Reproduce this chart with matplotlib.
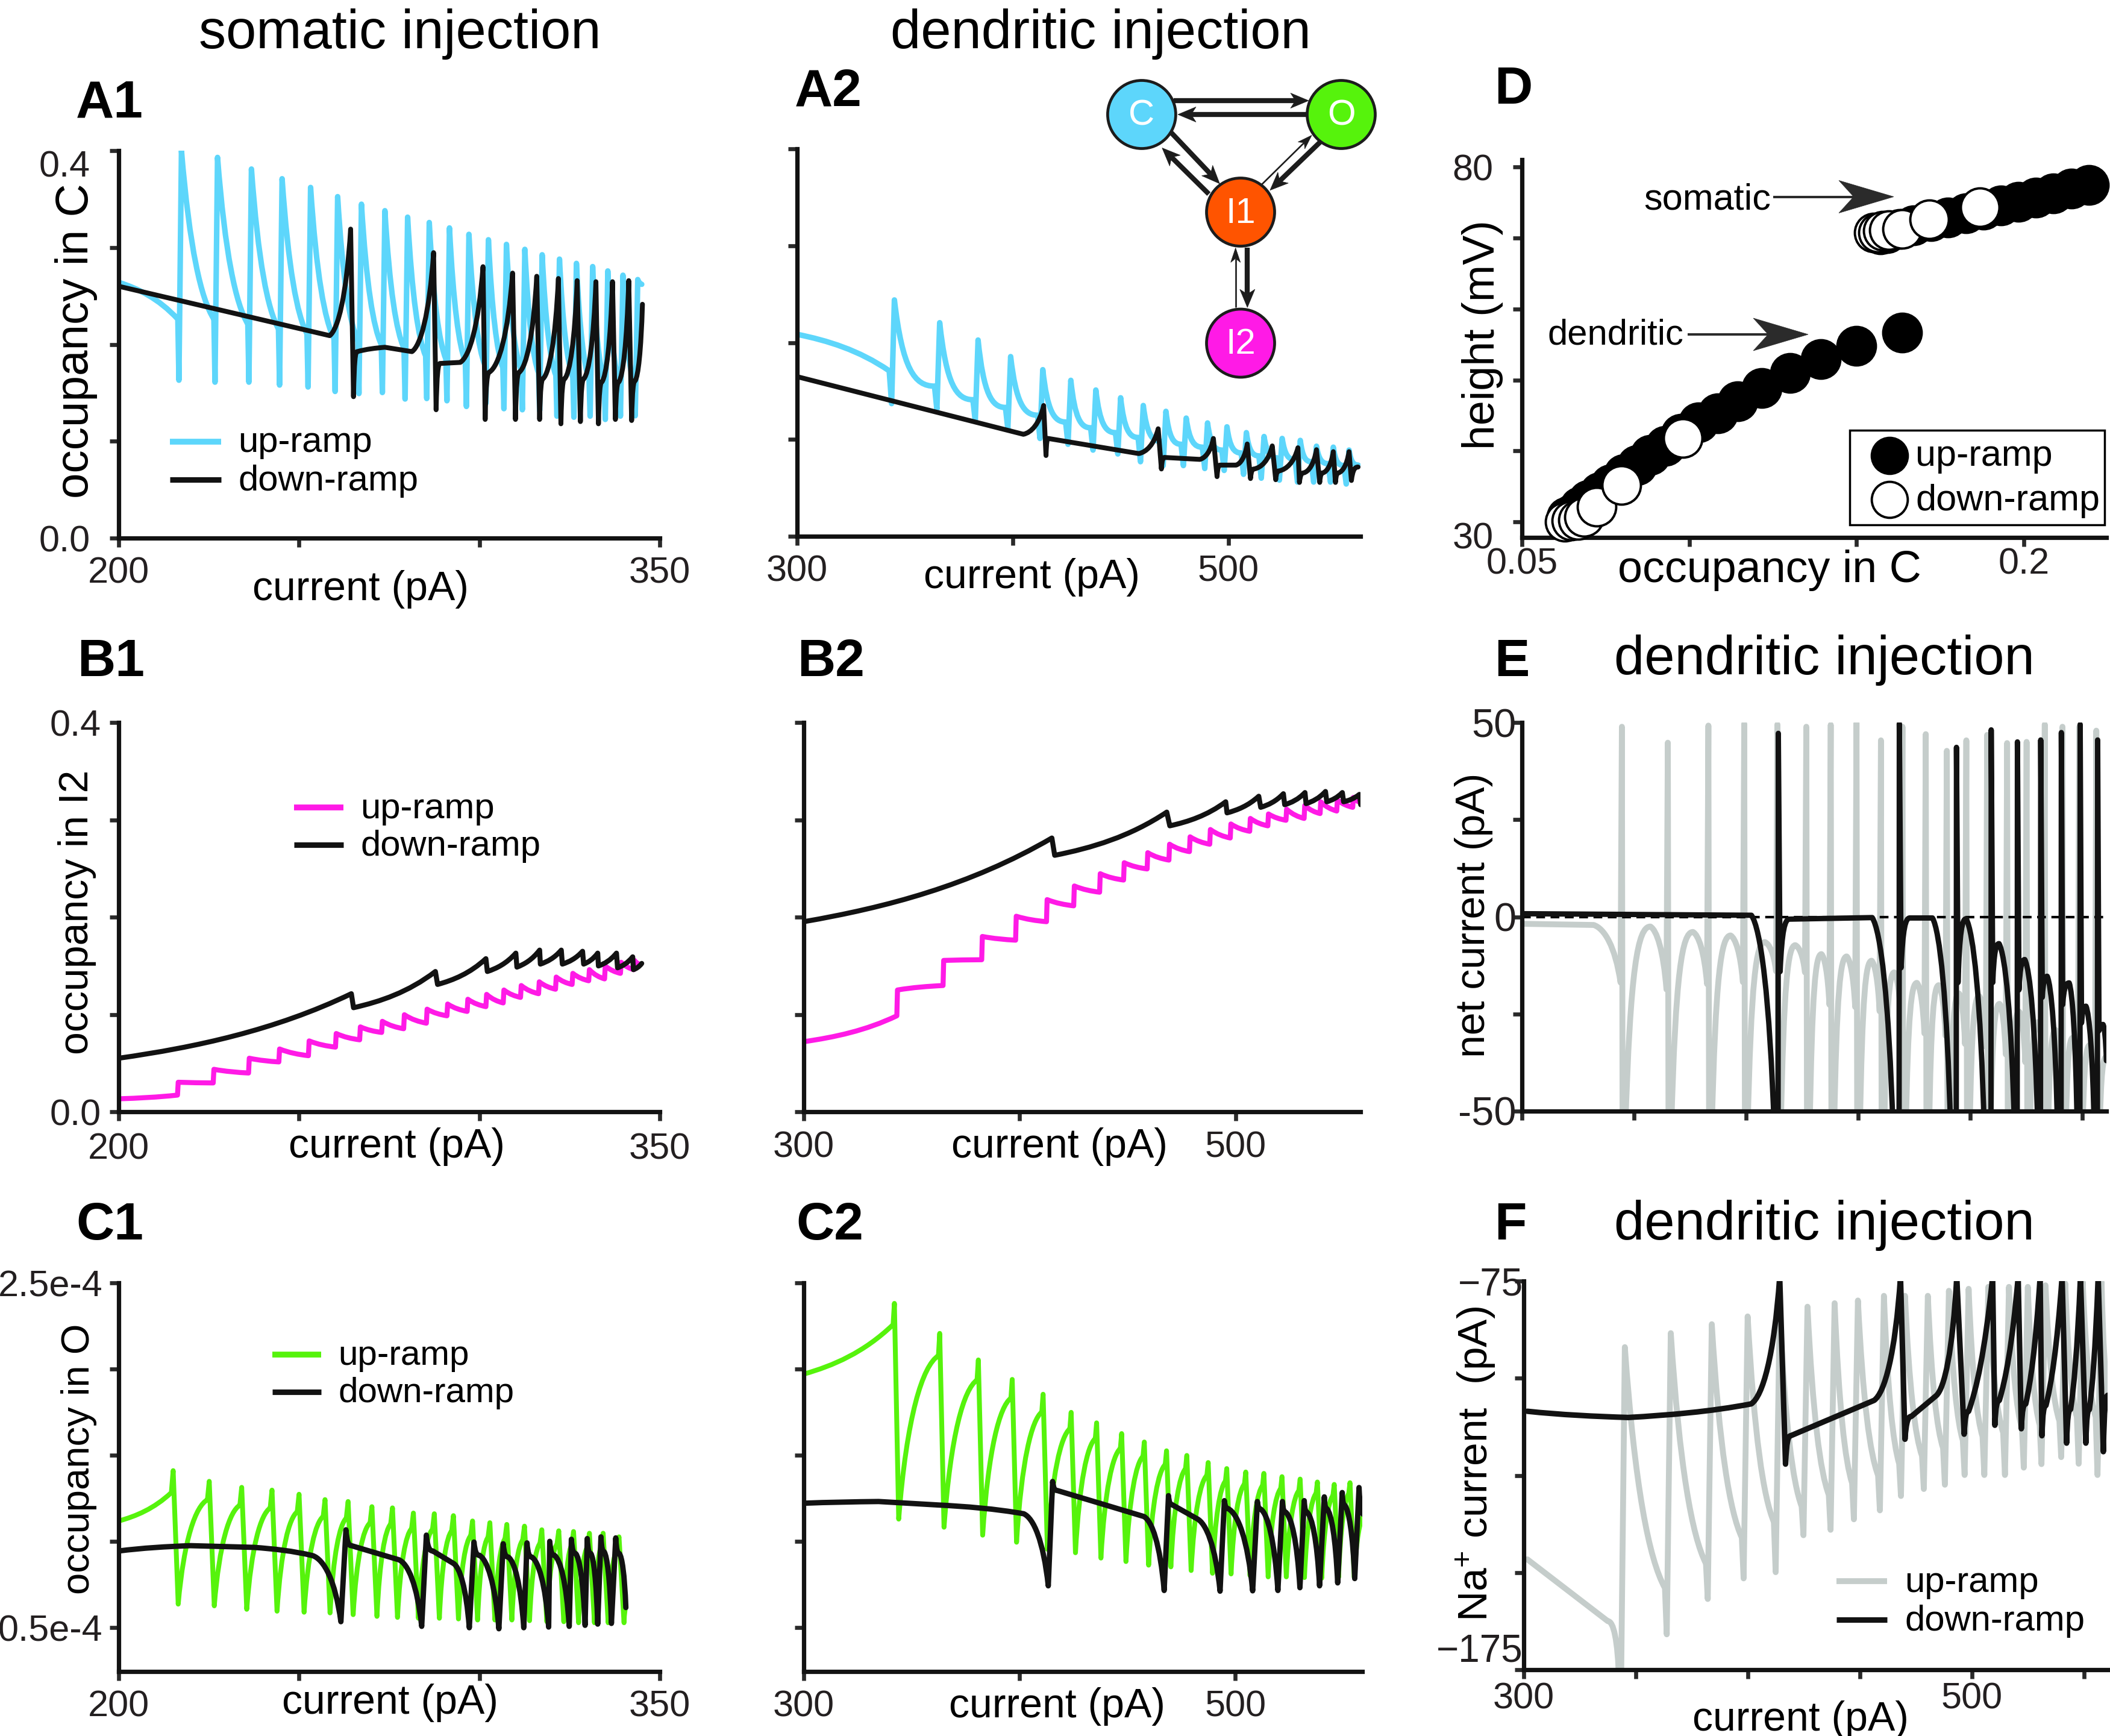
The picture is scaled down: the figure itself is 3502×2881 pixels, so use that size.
import numpy as np
import matplotlib
matplotlib.use('Agg')
import matplotlib.pyplot as plt
from matplotlib.path import Path
from matplotlib.patches import PathPatch, Circle, Polygon, Rectangle

plt.rcParams['font.family'] = ['Liberation Sans', 'DejaVu Sans']
plt.rcParams['mathtext.fontset'] = 'custom'
plt.rcParams['mathtext.rm'] = 'Liberation Sans'
plt.rcParams['mathtext.it'] = 'Liberation Sans:italic'
plt.rcParams['mathtext.bf'] = 'Liberation Sans:bold'

W, H = 3502, 2881
BLUE = '#5dd6fb'; GREEN = '#56f30c'; MAGENTA = '#ff1ae6'; GRAY = '#c5cdcb'
BLACK = '#121212'; ORANGE = '#ff5400'; DARK = '#231f20'
O_UNIT = 1e-4

# ---------------- data ----------------
# A1: occupancy in C, somatic injection
A1_up_x = [217.4, 227.4, 236.8, 245.3, 253.2, 260.7, 267.3, 273.8, 280.1, 286.1, 291.7,
           297.1, 302.5, 307.5, 312.6, 317.4, 322.2, 326.9, 331.4, 335.6, 339.8, 343.9]
A1_up_peak = [0.400, 0.393, 0.381, 0.371, 0.362, 0.3525, 0.3447, 0.3380, 0.3313, 0.3258, 0.3202,
              0.3136, 0.3080, 0.3032, 0.2981, 0.2925, 0.2880, 0.2836, 0.2803, 0.2758, 0.2714, 0.2669]
A1_up_trough = [0.163, 0.161, 0.161, 0.158, 0.156, 0.1514, 0.1492, 0.1503, 0.1436, 0.1441, 0.1418,
                0.1359, 0.1392, 0.1336, 0.1325, 0.1314, 0.1259, 0.1248, 0.1259, 0.1225, 0.1259, 0.1263]
A1_up_pre = [0.226, 0.226, 0.221, 0.216, 0.211, 0.206, 0.2036, 0.200, 0.196, 0.188, 0.185,
             0.182, 0.179, 0.176, 0.173, 0.1705, 0.168, 0.166, 0.164, 0.162, 0.160, 0.159]
A1_up_start = (200.0, 0.264)
A1_up_end = (345.0, 0.262)
A1_dn_x = [200.0, 258.5, 264.3, 265.1, 266.1, 273.8, 281.3, 287.3, 288.0, 289.1, 294.7, 301.0,
           301.6, 302.8, 309.2, 310.0, 311.1, 315.9, 316.7, 317.7, 321.9, 322.6, 323.7, 327.1,
           328.0, 329.0, 332.3, 333.0, 334.0, 336.9, 337.7, 338.7, 341.4, 342.2, 343.2, 345.2]
A1_dn_y = [0.260, 0.209, 0.319, 0.146, 0.1925, 0.197, 0.1925, 0.2947, 0.1325, 0.1803, 0.1814, 0.2802,
           0.1225, 0.1714, 0.2736, 0.1225, 0.1714, 0.2703, 0.1225, 0.1647, 0.268, 0.118, 0.1647, 0.2658,
           0.1203, 0.1647, 0.2647, 0.118, 0.1614, 0.2647, 0.1225, 0.1614, 0.2658, 0.1214, 0.1625, 0.2414]
A1_dn_k = "lslfhlslflslfs" + "lfs" * 7

# A2: occupancy in C, dendritic injection
A2_up_x = [345.1, 366.1, 383.9, 399.0, 413.9, 426.9, 438.5, 450.0, 460.5, 471.0,
           480.4, 490.3, 499.3, 508.3, 516.5, 524.9, 533.3, 540.8, 548.6, 555.9]
A2_up_peak = [0.244, 0.2205, 0.2026, 0.1855, 0.172, 0.161, 0.151, 0.143, 0.135, 0.129,
              0.122, 0.117, 0.113, 0.107, 0.103, 0.101, 0.099, 0.093, 0.092, 0.089]
A2_up_trough = [0.137, 0.131, 0.119, 0.111, 0.101, 0.095, 0.089, 0.085, 0.077, 0.073,
                0.073, 0.070, 0.068, 0.064, 0.060, 0.058, 0.056, 0.056, 0.056, 0.054]
A2_up_pre = [0.1708, 0.155, 0.141, 0.133, 0.125, 0.118, 0.112, 0.107, 0.102, 0.098,
             0.095, 0.092, 0.089, 0.086, 0.083, 0.081, 0.079, 0.077, 0.075, 0.073]
A2_up_start = (300.0, 0.2085)
A2_up_end = (560.1, 0.0735)
A2_dn_x = [300.0, 404.9, 414.3, 415.4, 416.4, 458.4, 467.4, 468.9, 470.3, 486.7, 493.0, 494.7,
           496.1, 503.5, 508.7, 510.2, 511.9, 520.3, 521.9, 523.4, 532.2, 532.9, 534.9, 540.8,
           542.3, 543.8, 548.6, 549.6, 551.0, 555.9, 557.0, 560.1]
A2_dn_y = [0.1648, 0.1053, 0.135, 0.0834, 0.101, 0.0854, 0.111, 0.0695, 0.0814, 0.0794, 0.101, 0.0616,
           0.0735, 0.0735, 0.0953, 0.0596, 0.0695, 0.0933, 0.0584, 0.0675, 0.0914, 0.0556, 0.0655, 0.0894,
           0.0556, 0.0655, 0.0874, 0.0556, 0.0655, 0.0874, 0.0576, 0.0715]
A2_dn_k = "lslf" * 4 + "slf" * 5

# B1: occupancy in I2, somatic
B1_up_x = [216.3, 226.2, 236.0, 244.4, 252.6, 260.1, 266.8, 272.9, 279.0, 285.3, 291.0,
           296.6, 301.8, 306.6, 311.4, 316.4, 321.1, 325.7, 330.3, 334.7, 339.1, 342.8]
B1_up_lo = [0.0171, 0.0296, 0.0398, 0.0512, 0.0576, 0.0664, 0.0739, 0.0815, 0.0853, 0.0910, 0.0986,
            0.1031, 0.1080, 0.1118, 0.1175, 0.1213, 0.1259, 0.1308, 0.1346, 0.1365, 0.1422, 0.1460]
B1_up_hi = [0.0303, 0.0436, 0.0550, 0.0645, 0.0728, 0.0804, 0.0872, 0.0929, 0.0997, 0.1054, 0.1107,
            0.1156, 0.1206, 0.1251, 0.1297, 0.1335, 0.1384, 0.1422, 0.1460, 0.1498, 0.1536, 0.1555]
B1_up_start = (200.0, 0.0133)
B1_up_end = (344.3, 0.1517)
B1_dn_x = [200.0, 264.5, 265.1, 287.8, 288.4, 301.8, 302.2, 310.1, 310.4, 316.7, 316.9,
           322.7, 323.0, 328.6, 328.9, 332.8, 333.0, 338.0, 338.3, 342.5, 342.7, 345.0]
B1_dn_y = [0.055, 0.1213, 0.1069, 0.1441, 0.1308, 0.1573, 0.1441, 0.163, 0.1486, 0.1661, 0.1517,
           0.1661, 0.1517, 0.1649, 0.1517, 0.163, 0.1498, 0.163, 0.1479, 0.1592, 0.146, 0.1524]
B1_dn_k = "g" + "lg" * 10

# B2: occupancy in I2, dendritic
B2_up_x = [343.1, 364.5, 382.4, 398.1, 412.4, 425.0, 437.0, 448.1, 459.0, 469.1,
           478.6, 488.0, 497.5, 506.5, 514.9, 523.3, 531.7, 539.1, 546.8, 554.2]
B2_up_lo = [0.0986, 0.1297, 0.1562, 0.1763, 0.1953, 0.2116, 0.2256, 0.2381, 0.2495, 0.2586,
            0.2673, 0.2749, 0.2813, 0.2882, 0.2938, 0.2995, 0.3014, 0.3064, 0.3090, 0.3128]
B2_up_hi = [0.1251, 0.1555, 0.1801, 0.2009, 0.2180, 0.2320, 0.2446, 0.2559, 0.2662, 0.2749,
            0.2825, 0.2900, 0.2957, 0.3014, 0.3060, 0.3109, 0.3147, 0.3185, 0.3204, 0.3230]
B2_up_start = (300.0, 0.072)
B2_up_end = (557.5, 0.318)
B2_dn_x = [300.0, 414.9, 416.2, 468.1, 469.5, 495.4, 496.0, 510.7, 511.6, 522.1,
           522.7, 532.1, 532.6, 541.6, 542.2, 549.4, 550.0, 557.3, 557.9]
B2_dn_y = [0.1953, 0.2813, 0.2635, 0.3079, 0.2938, 0.3185, 0.3071, 0.3242, 0.3128, 0.3268,
           0.3155, 0.328, 0.3166, 0.3291, 0.3185, 0.328, 0.3185, 0.3261, 0.3155]
B2_dn_k = "g" + "lg" * 8 + "l"

# C1: occupancy in O (units of 1e-4), somatic
C1_up_x = [215.1, 225.1, 234.1, 242.5, 250.0, 257.2, 263.6, 270.2, 275.9, 281.7, 287.5,
           292.8, 298.1, 302.9, 307.6, 312.5, 317.3, 322.0, 326.1, 330.5, 334.3, 338.7]
C1_up_peak = [1.411, 1.349, 1.314, 1.298, 1.274, 1.243, 1.232, 1.202, 1.195, 1.165, 1.161,
              1.150, 1.119, 1.109, 1.099, 1.089, 1.068, 1.062, 1.058, 1.048, 1.048, 1.027]
C1_up_trough = [0.637, 0.627, 0.607, 0.596, 0.590, 0.586, 0.576, 0.566, 0.560, 0.555, 0.555,
                0.551, 0.545, 0.545, 0.545, 0.541, 0.535, 0.535, 0.529, 0.529, 0.529, 0.529]
C1_up_start = [(200.0, 1.119), (214.6, 1.284)]
C1_up_end = (340.6, 0.620)
C1_dn_x = [200.0, 219.9, 237.5, 253.8, 261.6, 263.0, 264.5, 277.7, 284.0, 285.3, 287.1, 292.8,
           297.2, 298.5, 300.0, 305.4, 306.6, 308.0, 312.3, 313.2, 314.5, 319.2, 319.5, 320.8,
           324.9, 325.5, 326.7, 329.3, 329.9, 330.9, 332.8, 333.7, 334.6, 336.6, 337.8, 338.8, 340.6]
C1_dn_y = [0.945, 0.976, 0.966, 0.918, 0.535, 1.068, 0.976, 0.894, 0.508, 1.037, 0.945, 0.873,
           0.500, 0.997, 0.920, 0.494, 0.987, 0.910, 0.500, 0.992, 0.910, 0.504, 1.001, 0.920,
           0.508, 1.013, 0.930, 0.514, 1.017, 0.930, 0.521, 1.027, 0.940, 0.525, 1.021, 0.930, 0.617]
C1_dn_k = "hlgs" + "lfls" + "lfls" + "lfs" * 8

# C2: occupancy in O (units of 1e-4), dendritic
C2_up_x = [342.0, 363.0, 380.9, 396.6, 410.9, 423.9, 435.7, 447.3, 457.8, 468.1,
           477.5, 487.4, 496.0, 504.8, 513.2, 521.6, 530.0, 538.0, 545.8, 553.1]
C2_up_peak = [2.381, 2.207, 2.053, 1.940, 1.854, 1.749, 1.688, 1.626, 1.577, 1.526,
              1.499, 1.458, 1.423, 1.403, 1.395, 1.376, 1.362, 1.345, 1.331, 1.341]
C2_up_trough = [1.130, 1.083, 1.037, 0.996, 0.955, 0.935, 0.904, 0.884, 0.863, 0.853,
                0.832, 0.816, 0.812, 0.802, 0.795, 0.795, 0.791, 0.787, 0.791, 0.791]
C2_up_start = [(300.0, 1.971), (341.4, 2.258)]
C2_up_end = (559.5, 1.150)
C2_dn_x = [300.0, 334.7, 362.0, 401.9, 413.3, 415.3, 417.4, 457.6, 467.0, 469.0, 470.6, 482.1,
           492.9, 494.9, 496.6, 508.0, 510.2, 511.8, 519.7, 521.8, 523.3, 529.9, 531.9, 533.2,
           539.0, 541.2, 542.4, 547.4, 549.5, 550.7, 555.3, 557.3, 559.7]
C2_dn_y = [1.222, 1.232, 1.212, 1.161, 0.743, 1.348, 1.296, 1.145, 0.716, 1.266, 1.214, 1.133,
           0.712, 1.237, 1.191, 0.714, 1.232, 1.187, 0.716, 1.232, 1.170, 0.732, 1.237, 1.170,
           0.743, 1.259, 1.190, 0.760, 1.284, 1.210, 0.785, 1.313, 1.156]
C2_dn_k = "hlgs" + "lfls" + "lfls" + "lfs" * 6 + "lf"

# D: spike height vs occupancy in C
D_dend_up_occ = [0.0634, 0.0653, 0.0673, 0.0699, 0.0732, 0.0765, 0.0804, 0.0844, 0.0883, 0.0929,
                 0.0975, 0.1027, 0.1086, 0.1145, 0.1217, 0.1302, 0.1394, 0.1499, 0.1637]
D_dend_up_h = [30.7, 31.2, 32.1, 33.1, 34.2, 35.3, 36.7, 38.0, 39.4, 40.7,
               42.4, 44.0, 45.3, 47.0, 48.9, 51.0, 52.9, 54.8, 56.7]
D_dend_dn_occ = [0.0627, 0.0647, 0.0667, 0.0686, 0.0723, 0.0798, 0.0981]
D_dend_dn_h = [30.0, 30.2, 30.3, 30.7, 32.1, 35.2, 41.8]
D_soma_up_occ = [0.1571, 0.1591, 0.1630, 0.1670, 0.1722, 0.1774, 0.1827, 0.1879, 0.1932, 0.1984,
                 0.2037, 0.2089, 0.2142, 0.2194]
D_soma_up_h = [70.5, 70.7, 71.3, 71.8, 72.4, 72.9, 73.5, 74.0, 74.6, 75.1, 75.7, 76.3, 77.0, 77.5]
D_soma_dn_occ = [0.1552, 0.1565, 0.1578, 0.1597, 0.1637, 0.1718, 0.1869]
D_soma_dn_h = [70.8, 70.8, 71.0, 71.1, 71.3, 72.6, 74.3]

# E: net current (pA), dendritic
E_up_x = [344.6, 365.1, 383.2, 399.2, 414.0, 426.9, 437.8, 449.3, 460.2, 469.8,
          480.2, 489.6, 498.3, 507.6, 516.5, 525.2, 533.3, 541.2, 548.7, 556.3]
E_up_top = [48.9, 44.8, 49.2, 49.7, 49.5, 48.9, 49.4, 49.9, 45.4, 48.9,
            47.0, 42.7, 45.4, 46.8, 44.7, 45.0, 49.5, 48.9, 48.9, 47.9]
E_up_arc = [-2.5, -3.9, -4.8, -6.5, -7.3, -9.6, -10.2, -11.3, -14.3, -17.0,
            -17.6, -19.7, -20.4, -22.4, -24.4, -27.1, -29.1, -31.1, -33.0, -35.0]
E_up_pre = [-16.9, -18.7, -17.3, -16.8, -14.0, -14.3, -22.6, -23.2, -24.3, -27.3,
            -30.0, -30.6, -32.7, -33.4, -35.4, -37.4, -40.1, -42.1, -44.1, -46.0]
E_up_start = [(300.0, -1.8), (332.0, -2.1)]
E_up_end = (560.8, -36.0)
E_dn_x = [300.0, 402.4, 412.6, 414.3, 414.4, 415.2, 419.4, 456.3, 465.6, 468.3, 468.4, 469.2,
          473.1, 483.2, 491.3, 493.8, 493.9, 494.6, 498.2, 506.3, 509.3, 509.4, 510.1, 512.9,
          519.8, 521.0, 521.1, 521.8, 524.4, 530.2, 531.4, 531.5, 532.2, 534.4, 539.0, 540.6,
          540.7, 541.3, 544.2, 547.8, 549.0, 549.1, 549.7, 551.7, 555.4, 556.8, 556.9, 557.5,
          559.3, 560.8]
E_dn_y = [0.8, 0.4, -55, -55, 47.2, -14.1, -0.6, -0.2, -55, -55, 49.7, -13.1,
          -0.3, -0.3, -55, -55, 43.6, -16.9, -0.5, -55, -55, 48.1, -16.9, -6.9,
          -55, -55, 45.0, -18.8, -11.0, -55, -55, 45.5, -20.7, -15.3, -55, -55,
          47.4, -22.6, -17.0, -55, -55, 49.5, -27.3, -23.0, -55, -55, 45.5, -29.3,
          -27.7, -37.0]
E_dn_k = "ls" + "lllfls" + "lllfls" + "lllfs" + "lllfs" * 6

# F: Na+ current (pA), dendritic
F_up_x = [345.1, 365.6, 383.9, 399.9, 414.2, 426.6, 438.7, 449.1, 460.7, 470.1,
          480.3, 489.7, 498.5, 507.3, 516.5, 524.9, 532.8, 541.6, 549.4, 557.8]
F_up_peak = [-92.0, -88.4, -86.1, -84.1, -83.0, -81.6, -80.7, -80.0, -78.8, -78.8,
             -78.8, -77.5, -77.0, -76.5, -76.5, -76.5, -76.1, -75.6, -75.2, -75.2]
F_up_trough = [-185.0, -165.9, -156.8, -151.5, -149.9, -140.4, -139.0, -136.3, -134.0, -130.3,
               -128.5, -127.4, -124.9, -124.9, -124.9, -123.0, -122.1, -120.3, -122.0, -124.9]
F_up_pre = [-178.0, -154.0, -147.7, -141.0, -137.0, -133.0, -130.0, -127.0, -125.0, -122.0,
            -120.0, -118.0, -116.0, -115.0, -114.0, -113.0, -112.0, -111.0, -110.0, -110.0]
F_up_start = [(301.6, -146.6), (337.5, -162.5)]
F_up_end = (560.6, -103.9)
F_dn_x = [301.6, 346.6, 401.5, 414.2, 416.8, 419.1, 456.3, 468.1, 470.1, 473.0, 484.0, 493.2,
          496.5, 498.5, 509.2, 510.2, 512.2, 520.6, 522.0, 524.0, 530.4, 531.2, 533.0, 540.2,
          542.2, 544.0, 548.4, 550.8, 552.4, 556.3, 558.6, 560.6]
F_dn_y = [-108.5, -110.1, -106.6, -74.0, -122.1, -114.8, -105.7, -74.0, -115.7, -109.8, -104.5, -74.0,
          -114.4, -108.5, -74.0, -112.1, -105.7, -74.0, -113.0, -106.6, -74.0, -114.8, -107.0, -74.0,
          -116.7, -108.0, -74.0, -116.7, -108.0, -74.0, -118.9, -104.4]
F_dn_k = "hgs" + "lfls" + "lfls" + "lfg" * 6 + "lf"

# ---------------- curve helpers (Bezier segments between read vertices) ----------------
FAST = {'f': (0.2, 0.8, 0.5, 1.0), 'd': (0.25, 0.58, 0.6, 0.88), 'h': (0.33, 0.57, 0.67, 0.83),
        'c': (0.2, 0.63, 0.6, 0.94), 'F': (0.1, 0.7, 0.5, 1.0)}
SLOW = {'s': 'c', 'g': 'h', 'S': 'F', 'e': 'f'}


def ctrl(k):
    if k in FAST:
        return FAST[k]
    a1, b1, a2, b2 = FAST[SLOW[k]]
    return (1 - a2, 1 - b2, 1 - a1, 1 - b1)


def trace_path(xs, ys, kinds):
    verts = [(xs[0], ys[0])]
    codes = [Path.MOVETO]
    for i in range(len(xs) - 1):
        k = kinds[i] if i < len(kinds) else 'l'
        x0, y0, x1, y1 = xs[i], ys[i], xs[i + 1], ys[i + 1]
        if k == 'l':
            verts.append((x1, y1)); codes.append(Path.LINETO)
        else:
            a1, b1, a2, b2 = ctrl(k)
            dx, dy = x1 - x0, y1 - y0
            verts += [(x0 + a1 * dx, y0 + b1 * dy), (x0 + a2 * dx, y0 + b2 * dy), (x1, y1)]
            codes += [Path.CURVE4] * 3
    return Path(verts, codes)


def draw(ax, xs, ys, kinds, color, lw, scale=1.0, z=2):
    ys = [y * scale for y in ys]
    ax.add_patch(PathPatch(trace_path(xs, ys, kinds), fill=False, edgecolor=color, lw=lw,
                           joinstyle='round', capstyle='round', zorder=z))


def head_of(pts, kinds):
    return [p[0] for p in pts], [p[1] for p in pts], kinds


def train_up(start, px, peak, trough, pre, end, w1, w2, kdec, k0):
    xs, ys, ks = head_of(start, k0)
    for i in range(len(px)):
        xs += [px[i] - w1, px[i] - w2, px[i]]
        ys += [pre[i], trough[i], peak[i]]
        ks += 'll' + kdec
    xs.append(end[0]); ys.append(end[1])
    return xs, ys, ks


def train_green(start, px, peak, trough, end, wpre, wt, cusp):
    xs, ys, ks = head_of(start, 'g' * (len(start) - 1) + 'l')
    n = len(px)
    for i in range(n):
        xs.append(px[i]); ys.append(peak[i]); ks += 'l'
        xs.append(px[i] + wt); ys.append(trough[i]); ks += 'c'
        if i < n - 1:
            xs.append(px[i + 1] - wpre)
            ys.append(peak[i + 1] - cusp * (peak[i + 1] - trough[i]))
            ks += 'l'
    xs.append(end[0]); ys.append(end[1])
    return xs, ys, ks


def train_steps(start, sx, lo, hi, end, ws, kpost):
    xs, ys, ks = [start[0]], [start[1]], 'g'
    for i in range(len(sx)):
        xs += [sx[i], sx[i] + ws]
        ys += [lo[i], hi[i]]
        ks += 'l' + kpost
    xs.append(end[0]); ys.append(end[1])
    return xs, ys, ks


def train_gray_e(start, px, top, arc, pre, end, w, gap, frac, bottom):
    xs, ys, ks = head_of(start, 'ls')
    n = len(px)
    for i in range(n):
        xs += [px[i] - w, px[i], px[i] + 0.3, px[i] + gap]
        ys += [pre[i], top[i], bottom, bottom]
        ks += 'lllf'
        if i < n - 1:
            xs.append(px[i] + frac * (px[i + 1] - px[i])); ys.append(arc[i]); ks += 's'
    xs.append(end[0]); ys.append(end[1])
    return xs, ys, ks


# ---------------- figure / axes ----------------
fig = plt.figure(figsize=(W / 100, H / 100), dpi=100)
TICK_FS = 44


def mkax(L, R, T, B, xlim, ylim):
    ax = fig.add_axes([L / W, 1 - B / H, (R - L) / W, (B - T) / H])
    ax.set_xlim(*xlim); ax.set_ylim(*ylim)
    for s in ['top', 'right']:
        ax.spines[s].set_visible(False)
    for s in ['left', 'bottom']:
        ax.spines[s].set_linewidth(5.2)
        ax.spines[s].set_color(BLACK)
    ax.tick_params(direction='out', length=11, width=4.8, color='#2a2a2a', labelcolor=DARK)
    ax.patch.set_alpha(0)
    return ax


def ticks(ax, xt, xl, yt, yl, xpad, ypad, xsize=TICK_FS, ysize=TICK_FS):
    ax.set_xticks(xt); ax.set_xticklabels(xl)
    ax.set_yticks(yt); ax.set_yticklabels(yl)
    ax.tick_params(axis='x', pad=xpad, labelsize=xsize)
    ax.tick_params(axis='y', pad=ypad, labelsize=ysize)


occ_t = [0, 0.1, 0.2, 0.3, 0.4]
# A1
axA1 = mkax(197, 1095, 250, 893, (200, 350), (0, 0.4))
ticks(axA1, [200, 250, 300, 350], ['200', '', '', '350'], occ_t, ['0.0', '', '', '', '0.4'], 11, 23)
axA1.get_yticklabels()[-1].set_va('top')
xs, ys, ks = train_up([A1_up_start], A1_up_x, A1_up_peak, A1_up_trough, A1_up_pre, A1_up_end,
                      1.0, 0.7, 'd', 'g')
draw(axA1, xs, ys, ks, BLUE, 6.6)
draw(axA1, A1_dn_x, A1_dn_y, A1_dn_k, BLACK, 5.8, z=3)

# A2
axA2 = mkax(1323, 2258, 247, 890, (300, 561.2), (0, 0.4))
ticks(axA2, [300, 400, 500], ['300', '', '500'], occ_t, [''] * 5, 11, 10)
xs, ys, ks = train_up([A2_up_start], A2_up_x, A2_up_peak, A2_up_trough, A2_up_pre, A2_up_end,
                      2.4, 1.3, 'f', 'g')
draw(axA2, xs, ys, ks, BLUE, 6.6)
draw(axA2, A2_dn_x, A2_dn_y, A2_dn_k, BLACK, 5.8, z=3)

# D
axD = mkax(2526, 3496, 265, 892, (0.05, 0.2247), (27.8, 81.05))
ticks(axD, [0.05, 0.1, 0.15, 0.2], ['0.05', '', '', '0.2'], [30, 40, 50, 60, 70, 80],
      ['30', '', '', '', '', '80'], 1.0, 23)
axD.get_yticklabels()[0].set_va('top')
for occ, h, filled in [(D_dend_up_occ, D_dend_up_h, True), (D_soma_up_occ, D_soma_up_h, True),
                       (D_dend_dn_occ, D_dend_dn_h, False), (D_soma_dn_occ, D_soma_dn_h, False)]:
    axD.plot(occ, h, 'o', ls='none', ms=46, mew=2.8, mec='k', mfc='k' if filled else 'white',
             clip_on=False, zorder=4 if filled else 5)

# B1
axB1 = mkax(197, 1095, 1199, 1845, (200, 350), (0, 0.4))
ticks(axB1, [200, 250, 300, 350], ['200', '', '', '350'], occ_t, ['0.0', '', '', '', '0.4'], 14, 10)
xs, ys, ks = train_steps(B1_up_start, B1_up_x, B1_up_lo, B1_up_hi, B1_up_end, 0.2, 'h')
draw(axB1, xs, ys, ks, MAGENTA, 6.0)
draw(axB1, B1_dn_x, B1_dn_y, B1_dn_k, BLACK, 6.0, z=3)

# B2
axB2 = mkax(1334, 2258, 1199, 1845, (300, 557.8), (0, 0.4))
ticks(axB2, [300, 400, 500], ['300', '', '500'], occ_t, [''] * 5, 12, 10)
xs, ys, ks = train_steps(B2_up_start, B2_up_x, B2_up_lo, B2_up_hi, B2_up_end, 0.3, 'h')
draw(axB2, xs, ys, ks, MAGENTA, 6.0)
draw(axB2, B2_dn_x, B2_dn_y, B2_dn_k, BLACK, 6.0, z=3)

# E
axE = mkax(2526, 3496, 1199, 1844, (300, 560.8), (-50, 50))
ticks(axE, [300, 350, 400, 450, 500, 550], [''] * 6, [-50, -25, 0, 25, 50],
      ['-50', '', '0', '', '50'], 10, -4.5, ysize=48)
xs, ys, ks = train_gray_e(E_up_start, E_up_x, E_up_top, E_up_arc, E_up_pre, E_up_end,
                          0.6, 1.5, 0.62, -55)
draw(axE, xs, ys, ks, GRAY, 7.0)
axE.axhline(0, color='k', lw=3.0, ls=(0, (3.5, 2.2)), zorder=2.5)
draw(axE, E_dn_x, E_dn_y, E_dn_k, BLACK, 6.4, z=3)

# C1
o_t = [0.5e-4, 1.0e-4, 1.5e-4, 2.0e-4, 2.5e-4]
axC1 = mkax(197, 1095, 2129, 2774, (200, 350), (0.246e-4, 2.5e-4))
ticks(axC1, [200, 250, 300, 350], ['200', '', '', '350'], o_t,
      ['0.5e-4', '', '', '', '2.5e-4'], 11, 8)
xs, ys, ks = train_green(C1_up_start, C1_up_x, C1_up_peak, C1_up_trough, C1_up_end, 0.5, 1.4, 0.15)
draw(axC1, xs, ys, ks, GREEN, 5.8, scale=O_UNIT)
draw(axC1, C1_dn_x, C1_dn_y, C1_dn_k, BLACK, 6.4, scale=O_UNIT, z=3)

# C2
axC2 = mkax(1334, 2261, 2129, 2774, (300, 558.8), (0.246e-4, 2.5e-4))
ticks(axC2, [300, 400, 500], ['300', '', '500'], o_t, [''] * 5, 11, 10)
xs, ys, ks = train_green(C2_up_start, C2_up_x, C2_up_peak, C2_up_trough, C2_up_end, 0.6, 2.0, 0.12)
draw(axC2, xs, ys, ks, GREEN, 5.8, scale=O_UNIT)
draw(axC2, C2_dn_x, C2_dn_y, C2_dn_k, BLACK, 6.4, scale=O_UNIT, z=3)

# F
axF = mkax(2529, 3498, 2126, 2771, (300, 560.5), (-175, -75))
ticks(axF, [300, 350, 400, 450, 500, 550], ['300', '', '', '', '500', ''],
      [-175, -150, -125, -100, -75], ['\u2212175', '', '', '', '\u221275'], 4.0, -10,
      xsize=44, ysize=46)
axF.get_yticklabels()[0].set_va('bottom')
xs, ys, ks = train_up(F_up_start, F_up_x, F_up_peak, F_up_trough, F_up_pre, F_up_end,
                      2.6, 1.8, 'd', 'lS')
draw(axF, xs, ys, ks, GRAY, 7.0)
draw(axF, F_dn_x, F_dn_y, F_dn_k, BLACK, 6.6, z=3)

# ---------------- overlay (text, legends, diagram) ----------------
ov = fig.add_axes([0, 0, 1, 1], zorder=20)
ov.set_xlim(0, W); ov.set_ylim(H, 0); ov.axis('off'); ov.patch.set_visible(False)


def T(x, y, s, size, ha='center', va='baseline', **kw):
    ov.text(x, y, s, fontsize=size, ha=ha, va=va, color=kw.pop('color', 'black'), **kw)


T(664, 80, 'somatic injection', 65)
T(1827, 80, 'dendritic injection', 65)
T(3028, 1119, 'dendritic injection', 65)
T(3028, 2057, 'dendritic injection', 65)
for lab, x, y in [('A1', 126, 194.5), ('A2', 1319, 175), ('D', 2480, 172), ('B1', 128, 1122),
                  ('B2', 1323, 1122), ('E', 2480, 1122), ('C1', 126, 2057), ('C2', 1321, 2057),
                  ('F', 2480, 2057)]:
    T(x, y, lab, 63, ha='left', fontweight='bold')

for x, y in [(598, 996), (1712, 976), (658, 1921), (1758, 1921), (647, 2844), (1754, 2850), (2988, 2872)]:
    T(x, y, 'current (pA)', 49)
T(2937, 966, 'occupancy in C', 53)

for x, y, s, sz in [(126, 566, 'occupancy in C', 55), (128, 1514, 'occupancy in I2', 49),
                    (131, 2421, 'occupancy in O', 47), (2460, 556, 'height (mV)', 53),
                    (2446, 1519, 'net current (pA)', 49),
                    (2449, 2430, 'Na$^{+}$ current  (pA)', 50)]:
    T(x, y, s, sz, va='center', rotation=90)

# legends
for (x0, x1, xt, yu, yd, col, sz) in [(282, 367, 395, 733, 796, BLUE, 43),
                                      (488, 570, 598, 1340, 1402, MAGENTA, 43),
                                      (452, 533, 561, 2248, 2310, GREEN, 42),
                                      (3048, 3132, 3161, 2624, 2688, GRAY, 43)]:
    ov.plot([x0, x1], [yu, yu], color=col, lw=7.0, solid_capstyle='butt')
    ov.plot([x0, x1], [yd, yd], color=BLACK, lw=6.6, solid_capstyle='butt')
    T(xt, yu + 2, 'up-ramp', sz, ha='left', va='center')
    T(xt, yd + 2, 'down-ramp', sz, ha='left', va='center')

# D legend box
ov.add_patch(Rectangle((3070, 714), 422.6, 156.5, fill=False, lw=2.5, ec='k'))
ov.plot([3135.6], [755.7], 'o', ms=43, mfc='k', mec='k', mew=2.8)
ov.plot([3135.6], [829], 'o', ms=43, mfc='white', mec='k', mew=2.8)
T(3179, 757, 'up-ramp', 44, ha='left', va='center')
T(3179, 831, 'down-ramp', 44, ha='left', va='center')


def arrow(x0, y0, x1, y1, lw, hl, hw, color='#1c1c1c', notch=0.27, z=21):
    u = np.array([x1 - x0, y1 - y0], float)
    u /= np.hypot(*u)
    p = np.array([-u[1], u[0]])
    tip = np.array([x1, y1], float)
    base = tip - hl * u
    nb = tip - hl * (1 - notch) * u
    ov.plot([x0, nb[0]], [y0, nb[1]], color=color, lw=lw, solid_capstyle='butt', zorder=z)
    ov.add_patch(Polygon([tip, base + hw / 2 * p, nb, base - hw / 2 * p], closed=True,
                         fc=color, ec=color, lw=0.5, zorder=z))


# D annotations
T(2728, 347, 'somatic', 44, ha='left')
arrow(2943, 326.5, 3143, 326.5, 2.9, 91, 54, color='#2b2b2b')
T(2568, 571, 'dendritic', 43, ha='left')
arrow(2801, 555, 3001, 555, 2.9, 91, 54, color='#2b2b2b')

# state diagram (A2)
thick, thin = 6.0, 1.9
arrow(1947.6, 167, 2172, 167, thick, 30, 25)
arrow(2171.9, 190, 1955, 190, thick, 30, 25)
arrow(1943.8, 220, 2024.3, 304.8, thick, 30, 25)
arrow(2006.3, 322, 1928.8, 245.5, thick, 30, 25)
arrow(2192.2, 234.7, 2107.9, 315.7, thick, 30, 25)
arrow(2092.9, 307.4, 2177.1, 224.5, thin, 24, 16)
arrow(2070.3, 411.4, 2070.3, 510.2, thick, 30, 25)
arrow(2050.7, 510.2, 2050.7, 411.4, thin, 24, 16)
for (cx, cy, col, lab) in [(1894.9, 190, BLUE, 'C'), (2226, 190, GREEN, 'O'),
                           (2059, 352, ORANGE, 'I1'), (2059, 569.5, MAGENTA, 'I2')]:
    ov.add_patch(Circle((cx, cy), 56.5, fc=col, ec='#1c1c1c', lw=3.4, zorder=22))
    ov.text(cx, cy + 2, lab, fontsize=43, color='white', ha='center', va='center', zorder=23)

fig.savefig('out.png', dpi=100, facecolor='white')
